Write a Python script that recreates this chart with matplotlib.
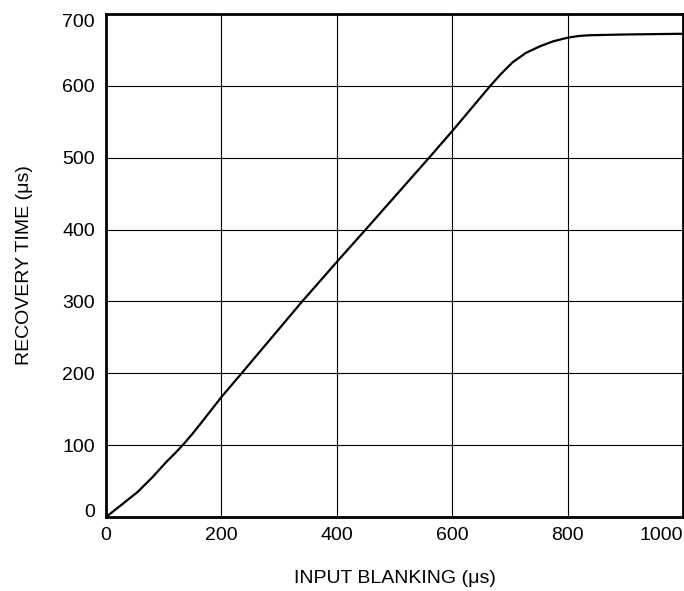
import matplotlib
matplotlib.use("Agg")
import matplotlib.pyplot as plt

plt.rcParams['font.family'] = ['Liberation Sans', 'DejaVu Sans']

# curve
blanking = [0, 30, 55, 80, 105, 120, 134, 150, 165, 200, 235, 340, 400, 450, 560, 600,
            666, 685, 705, 728, 752, 775, 800, 820, 840, 900, 1000]
recovery = [0, 19, 35, 55, 77, 89, 101, 116, 131, 167, 200, 300, 355, 400, 500, 537,
            600, 617, 633, 646, 655, 662, 667, 669.5, 670.5, 671.5, 672.5]

x_ticks = [0, 200, 400, 600, 800, 1000]
y_ticks = [0, 100, 200, 300, 400, 500, 600, 700]

fig = plt.figure(figsize=(6.84, 5.91), dpi=100)
ax = fig.add_axes([0.155, 0.1252, 0.8435, 0.8511])

ax.plot(blanking, recovery, color='black', linewidth=1.6,
        solid_capstyle='round', solid_joinstyle='round')

ax.set_xlim(0, 1000)
ax.set_ylim(0, 700)
ax.set_xticks(x_ticks)
ax.set_yticks(y_ticks)
ax.set_xticklabels([str(v) for v in x_ticks])
ax.set_yticklabels([str(v) for v in y_ticks])
ax.grid(True, color='black', linewidth=0.8)
ax.set_axisbelow(True)
for s in ax.spines.values():
    s.set_linewidth(2.0)
ax.tick_params(axis='both', length=0, labelsize=14, colors='black')
ax.tick_params(axis='x', pad=7)
ax.tick_params(axis='y', pad=8)

# edge labels pulled inward like the reference
ax.yaxis.get_major_ticks()[0].label1.set_va('baseline')
ax.yaxis.get_major_ticks()[-1].label1.set_va('top')
ax.xaxis.get_major_ticks()[-1].label1.set_ha('right')

ax.set_xlabel('INPUT BLANKING (\u03bcs)', fontsize=14)
ax.set_ylabel('RECOVERY TIME (\u03bcs)', fontsize=14)
ax.xaxis.set_label_coords(0.5, -0.106)
ax.yaxis.set_label_coords(-0.127, 0.5)

fig.savefig('out.png', dpi=100)
